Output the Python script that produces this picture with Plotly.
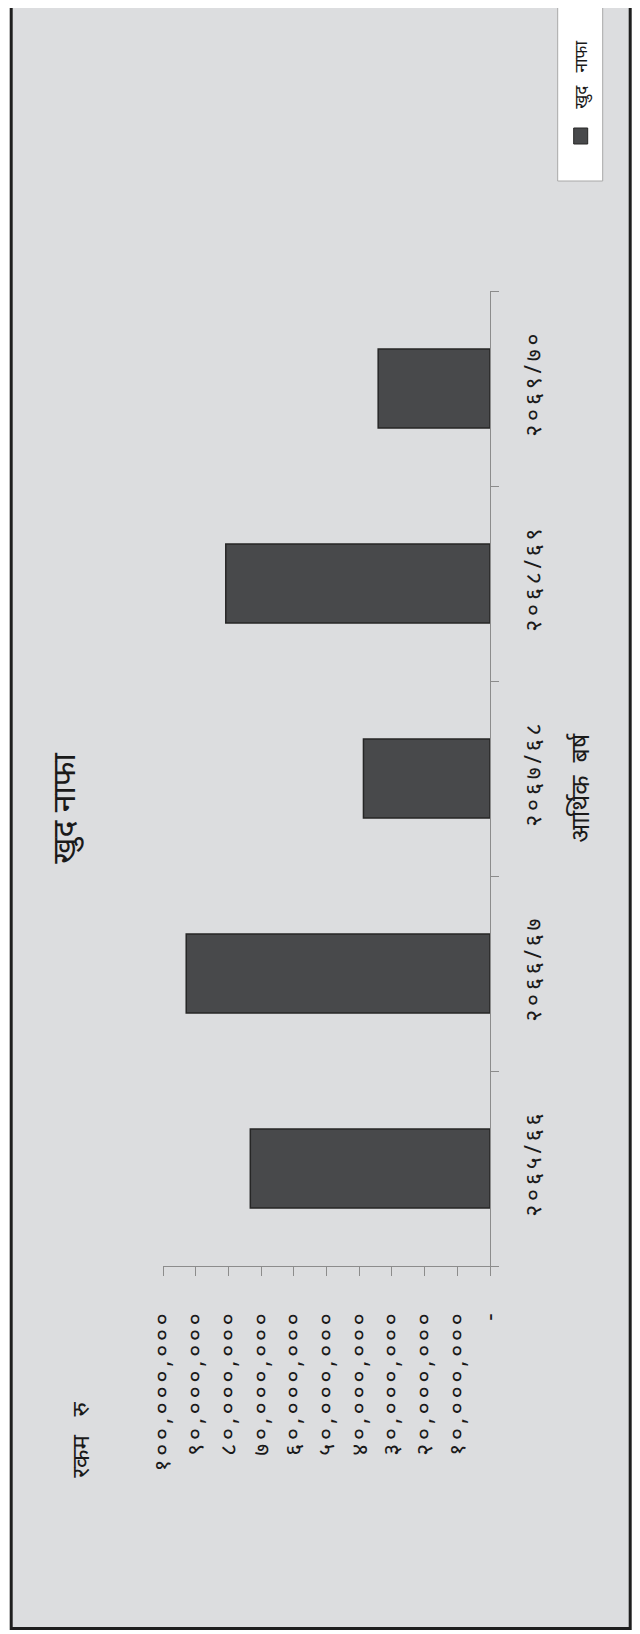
import plotly.graph_objects as go

# ---------------- data ----------------
categories = ["२०६५/६६", "२०६६/६७", "२०६७/६८", "२०६८/६९", "२०६९/७०"]
net_profit = [73.3e6, 92.9e6, 38.7e6, 80.8e6, 34.2e6]
value_ticks = [0, 10e6, 20e6, 30e6, 40e6, 50e6, 60e6, 70e6, 80e6, 90e6, 100e6]
value_tick_text = ["-", "१०,०००,०००", "२०,०००,०००", "३०,०००,०००", "४०,०००,०००",
                   "५०,०००,०००", "६०,०००,०००", "७०,०००,०००", "८०,०००,०००",
                   "९०,०००,०००", "१००,०००,०००"]
title_text = "खुद नाफा"
series_name = "खुद नाफा"
value_axis_title = "रकम रु"
category_axis_title = "आर्थिक बर्ष"

# ---------------- layout constants ----------------
OFF = 8                        # page body margin
W, H = 640 - OFF, 1634 - OFF   # figure size
# plot area in page pixels
PL, PR, PT, PB = 163.3, 490.3, 291.0, 1266.0
BG = "#dcdddf"
BAR = "#48494b"
INK = "#1a1a1a"
FONT = "Noto Sans, DejaVu Sans, sans-serif"
THIN = "\u2009"


def spaced(s):
    return THIN.join(list(s))


def px(x):
    return (x - PL) / (PR - PL)


def py(y):
    return (PB - y) / (PB - PT)


fig = go.Figure()
fig.add_trace(go.Bar(
    x=net_profit, y=categories, orientation="h", name=series_name,
    marker=dict(color=BAR, line=dict(color="#262626", width=1.5)),
    showlegend=False,
))

shapes = [
    dict(type="rect", xref="paper", yref="paper",
         x0=px(11.5), x1=px(630.5), y0=py(-20), y1=py(1628.5),
         line=dict(color="#1e1e1e", width=3), fillcolor=BG, layer="below"),
    dict(type="rect", xref="paper", yref="paper",
         x0=px(558), x1=px(603), y0=py(5), y1=py(181),
         line=dict(color="#a8a8a8", width=1), fillcolor="white", layer="above"),
    dict(type="rect", xref="paper", yref="paper",
         x0=px(574), x1=px(588), y0=py(128), y1=py(144),
         line=dict(color="#262626", width=1), fillcolor=BAR, layer="above"),
]


def note(text, x, y, size):
    return dict(text=text, x=px(x), y=py(y), xref="paper", yref="paper",
                xanchor="center", yanchor="middle", showarrow=False, textangle=-90,
                font=dict(size=size, color=INK, family=FONT))


annotations = [
    note(title_text, 62, 808, 32),
    note(value_axis_title.replace(" ", "\u00a0\u00a0\u00a0"), 79, 1440, 24),
    note(category_axis_title.replace(" ", "\u00a0\u00a0"), 579, 788, 25),
    note(series_name.replace(" ", "\u00a0\u00a0\u00a0"), 581, 75, 17),
]

fig.update_layout(
    width=W, height=H, autosize=False,
    margin=dict(l=PL - OFF, r=W - (PR - OFF), t=PT - OFF, b=H - (PB - OFF), pad=0),
    paper_bgcolor="white", plot_bgcolor="rgba(0,0,0,0)",
    bargap=0.595, showlegend=False,
    shapes=shapes, annotations=annotations,
    font=dict(family=FONT, color=INK),
)
fig.update_xaxes(
    range=[100e6, 0], tickmode="array", tickvals=value_ticks,
    ticktext=[spaced(t) for t in value_tick_text],
    tickangle=-90, showgrid=False, zeroline=False,
    showline=True, linecolor="#8c8c8c", linewidth=1.2,
    ticks="outside", ticklen=9, tickcolor="#8c8c8c", tickwidth=1.2,
    ticklabelstandoff=28, tickfont=dict(size=23, color=INK, family=FONT),
)
fig.update_yaxes(
    type="category", side="right", tickangle=-90, showgrid=False, zeroline=False,
    tickmode="array", tickvals=categories, ticktext=[spaced(c) for c in categories],
    showline=True, linecolor="#8c8c8c", linewidth=1.2,
    ticks="outside", tickson="boundaries", ticklen=8, tickcolor="#8c8c8c", tickwidth=1.2,
    ticklabelstandoff=22, tickfont=dict(size=23, color=INK, family=FONT),
)

fig.write_html("out.html")
